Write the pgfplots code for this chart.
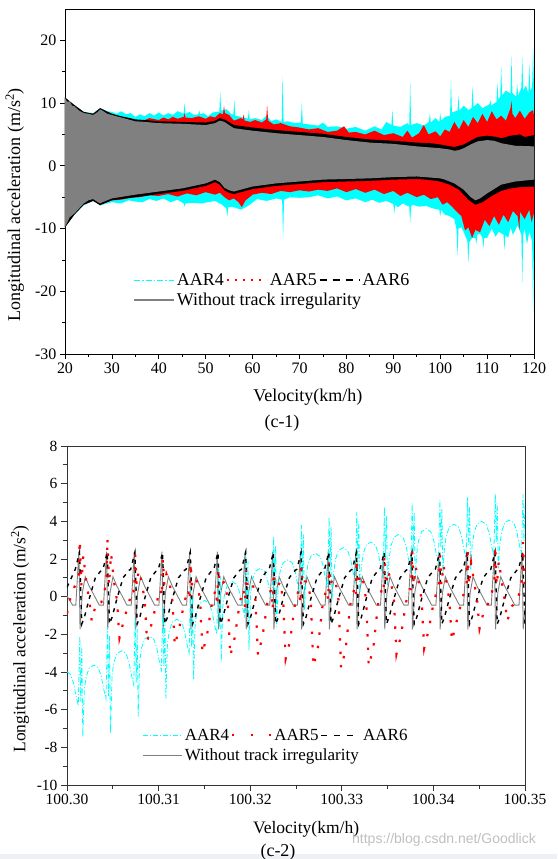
\documentclass[border=0pt]{standalone}
\usepackage{fontspec}
\setmainfont{Liberation Serif}
\newfontfamily\wmfont{Liberation Sans}
\usepackage{pgfplots}
\pgfplotsset{compat=1.18}
\definecolor{stripc}{RGB}{238,240,245}
\definecolor{cy}{RGB}{0,255,255}
\definecolor{rd}{RGB}{255,0,0}
\definecolor{gr}{RGB}{128,128,128}
\begin{document}
\begin{tikzpicture}
\useasboundingbox (0,0) rectangle (557pt,859pt);
\fill[stripc] (0,0) rectangle (557pt,5pt);
% ---------------- top chart (c-1) ----------------
\begin{axis}[
  at={(65pt,505pt)}, anchor=south west,
  width=469pt, height=345pt, scale only axis,
  xmin=20, xmax=120, ymin=-30, ymax=25,
  xtick={20,30,...,120}, ytick={-30,-20,...,20},
  minor x tick num=1, minor y tick num=1,
  tick align=outside, tick pos=left,
  major tick length=5pt, minor tick length=3pt,
  axis line style={line width=0.9pt},
  every tick/.style={black, line width=0.8pt},
  /pgf/number format/assume math mode=true,
  ticklabel style={font=\fontsize{16}{19}\selectfont},
  xlabel={Velocity(km/h)},
  ylabel={Longitudinal acceleration (m/s\textsuperscript{2})},
  every axis x label/.style={at={(axis description cs:0.518,-0.125)}, anchor=center, font=\fontsize{18}{21}\selectfont},
  every axis y label/.style={at={(axis description cs:-0.107,0.432)}, anchor=center, rotate=90, font=\fontsize{18}{21}\selectfont},
  legend style={at={(axis description cs:0.145,0.24)}, anchor=north west, draw=none, fill=none,
    font=\fontsize{18}{21}\selectfont, /tikz/every even column/.append style={column sep=0pt}, row sep=2pt, inner sep=0pt},
  legend columns=3, legend cell align=left,
  legend image code/.code={\draw[#1] (0pt,0pt) -- (40pt,0pt);},
]
\addlegendimage{cy, line width=1.1pt, dash pattern=on 6pt off 2pt on 1.5pt off 2pt}
\addlegendentry{AAR4}
\addlegendimage{rd, line width=2pt, dash pattern=on 2pt off 6pt}
\addlegendentry{AAR5}
\addlegendimage{black, line width=1.5pt, dash pattern=on 7pt off 6pt}
\addlegendentry{AAR6}
\addlegendimage{gr, line width=1.6pt}
\addlegendentry{\makebox[0pt][l]{Without track irregularity}}
% AAR4 envelope
\addplot[fill=cy, draw=none, forget plot] coordinates {
(20,10.8)(22,9.6)(24,8.6)(26,8.4)(27.5,9.2)(29,8.7)(30,8.6)(31,8.3)(32,8.7)(33,8.2)(34,8.4)(35,7.8)(36,8.2)(37,7.9)(38,8.4)(39,8.0)(40,8.5)(41,8.0)(42,8.4)(43,8.1)(44,8.7)(45.3,8.3)(45.5,10.0)(45.7,8.3)(46.5,8.6)(47.5,8.1)(48.4,8.2)(48.6,8.9)(48.8,8.2)(49.5,8.4)(50.5,7.9)(51.5,8.5)(52.5,8.6)(52.9,8.6)(53.1,11.7)(53.3,8.8)(54.5,9.0)(55.5,8.2)(55.9,8.2)(56.1,10.5)(56.3,8.0)(57.5,7.8)(59.0,7.5)(59.2,8.9)(59.4,7.4)(60.5,7.6)(62,7.3)(63,8.0)(64,7.1)(65,7.4)(66.2,7.0)(66.4,14.3)(66.6,7.0)(67.5,7.1)(69,6.8)(70.3,6.9)(70.5,10.2)(70.7,6.7)(72,6.6)(74,6.4)(75,6.9)(76,6.2)(78,6.3)(80,5.9)(82,6.2)(84,5.6)(86,6.3)(87.5,5.8)(88.5,7.0)(89.6,6.5)(89.8,8.9)(90,6.4)(91.5,6.2)(93,6.8)(93.4,6.5)(93.6,13.5)(93.8,6.5)(95,6.8)(96.5,6.4)(97.6,7.0)(97.8,8.4)(98,6.9)(99,7.6)(99.8,7.0)(100,8.4)(100.2,7.2)(101,7.8)(102.1,8.0)(102.3,13.7)(102.5,8.5)(103.7,8.8)(103.9,11.1)(104.1,8.8)(105,9.6)(106,8.9)(106.7,9.2)(106.9,12.7)(107.1,9.4)(108,10.0)(109,9.2)(110.5,9.8)(110.7,10.5)(110.9,9.6)(112,10.2)(112.2,13.2)(112.4,10.6)(112.8,11.0)(113,15.9)(113.2,11.2)(114,12.0)(115,11.5)(115.2,17.4)(115.4,11.6)(116.2,11.0)(116.4,13.2)(116.6,11.2)(117.3,12.4)(117.5,17.4)(117.7,12.0)(118.3,12.8)(118.8,11.5)(119,16.4)(119.2,12.0)(119.6,12.5)(119.8,19.0)(120,12.0)
(120,-12)(119.8,-23.5)(119.6,-12)(119,-10.5)(118.5,-12.5)(118,-10)(117.7,-11)(117.5,-18.7)(117.3,-11)(116.5,-9.5)(115.5,-11)(115,-9.8)(114.5,-11.5)(113.9,-11)(113.7,-13.4)(113.5,-11)(112.5,-10.5)(111.8,-11.3)(111,-10)(110,-11.5)(109.4,-11.5)(109.2,-13.1)(109,-11.5)(108.5,-10.8)(107.9,-11)(107.7,-12.5)(107.5,-11.5)(106.8,-11.5)(106.2,-12.2)(106,-15.5)(105.8,-12)(105,-10.5)(104.5,-9.8)(103.9,-10.0)(103.7,-14.5)(103.5,-10.2)(103,-8.5)(102,-8.0)(101,-7.8)(100.2,-7.0)(100,-8.1)(99.8,-7.0)(98.5,-6.8)(97,-6.4)(95.5,-6.5)(94,-6.2)(93.8,-6.5)(93.6,-9.1)(93.4,-6.5)(92,-6.0)(91,-6.6)(90.4,-6.2)(90.2,-7.6)(90,-6.1)(88.5,-5.6)(87,-5.9)(85.5,-5.4)(84,-5.8)(82,-5.2)(80,-5.5)(78,-4.9)(76,-5.2)(74,-4.7)(72,-5.0)(70,-5.1)(68,-5.0)(66.7,-5.4)(66.5,-11.7)(66.3,-5.4)(65,-5.2)(63,-5.6)(61,-5.3)(59,-6.4)(57.5,-7.0)(56,-6.6)(54.8,-6.6)(54.6,-8.1)(54.4,-6.8)(53.5,-6.2)(52,-5.6)(50.5,-5.8)(49,-6.0)(47.5,-5.9)(45.7,-6.0)(45.5,-6.5)(45.3,-6.0)(44,-5.4)(42.5,-5.8)(41,-5.2)(39.5,-5.6)(38,-5.3)(36.5,-5.8)(35,-5.7)(33.5,-5.5)(32,-6.0)(30,-5.8)(28,-6.2)(26,-5.6)(24,-6.3)(22,-7.8)(20,-9.8)
} -- cycle;
% AAR5 envelope
\addplot[fill=rd, draw=none, forget plot] coordinates {
(20,10.8)(22,9.6)(24,8.5)(26,8.3)(27.5,9.1)(29,8.4)(30,8.2)(32,7.8)(34,7.6)(35,7.2)(37,7.3)(38,7.6)(40,7.3)(41,7.7)(42,7.4)(43,7.8)(44,7.5)(45.3,7.8)(45.5,8.4)(45.7,7.7)(47,7.6)(48.5,7.9)(50,7.5)(51,7.9)(52,7.7)(53,8.4)(53.7,8.2)(53.9,9.6)(54.1,8.4)(55,8.1)(56,7.2)(57.5,7.6)(57.9,7.4)(58.1,8.2)(58.3,7.2)(59.5,7.0)(60.5,7.3)(62,6.9)(62.9,7.4)(63.1,9.7)(63.3,7.2)(64.5,6.6)(66,6.8)(68,6.3)(70,6.1)(72,5.8)(74,6.0)(76,5.4)(78,5.6)(79.5,6.3)(80.5,5.3)(82,5.4)(84,5.0)(86,5.6)(88,4.9)(90,5.2)(92,4.6)(93,5.6)(94,4.5)(95.5,5.2)(96.5,6.5)(97.5,5.0)(99,5.5)(100,4.7)(101,5.8)(102,5.4)(103,7.0)(104,5.8)(105,7.3)(106,6.2)(107,7.8)(108,6.8)(109,8.3)(110,7.0)(111,8.7)(112,7.4)(113,8.0)(114,7.2)(115,9.2)(115.2,10.3)(115.4,8.3)(116,7.6)(117,8.8)(118,7.5)(119,8.5)(119.8,8.9)(120,8.0)
(120,-7.5)(119.5,-9.0)(119,-7.0)(118,-8.5)(117,-7.3)(116.9,-10.2)(116.5,-8.0)(115.5,-7.2)(114.5,-9.0)(113.5,-7.8)(112.5,-9.4)(111.5,-8.0)(110.5,-9.6)(109.5,-8.6)(108.5,-10.6)(107.5,-10.2)(106.8,-11.5)(106,-9.8)(105.3,-10.3)(104.5,-8.0)(103.5,-7.3)(102.5,-6.5)(101.5,-5.8)(100.5,-6.2)(99.5,-5.0)(98,-5.3)(96.5,-4.6)(95,-5.0)(93,-4.3)(91.5,-4.8)(90,-4.0)(88,-4.5)(86,-3.8)(84,-4.3)(82,-3.7)(80,-4.2)(78,-3.6)(76,-4.0)(74,-3.8)(72,-4.1)(70,-3.9)(68,-4.2)(66,-4.0)(64,-4.5)(62,-4.3)(60,-4.6)(58.5,-5.5)(57.7,-6.6)(57,-5.8)(56,-5.2)(55,-5.5)(54,-5.0)(53,-4.3)(52,-4.6)(50,-4.2)(48,-4.7)(46,-4.4)(44,-4.9)(42,-4.5)(40,-4.8)(38,-4.7)(36,-5.0)(34,-5.1)(32,-5.4)(30,-5.5)(28,-6.1)(26,-5.5)(24,-6.2)(22,-7.7)(20,-9.8)
} -- cycle;
% AAR6 envelope
\addplot[fill=black, draw=none, forget plot] coordinates {
(20,10.9)(22,9.7)(24,8.6)(26,8.3)(27.5,9.2)(30,8.3)(32,7.9)(35,7.4)(37,7.3)(40,7.1)(45,7.0)(50,6.9)(52,7.2)(53,7.6)(54,7.4)(56,6.5)(58,6.3)(60,6.1)(65,5.7)(70,5.4)(75,5.1)(80,4.6)(85,4.2)(90,4.0)(95,3.7)(98,3.6)(100,3.4)(103,3.0)(105,3.4)(107,4.2)(108,4.6)(110,4.8)(112,4.6)(113,4.4)(115,4.8)(117,5.0)(118,4.6)(120,4.9)
(120,-3.3)(117,-3.4)(115,-3.6)(113,-4.0)(111,-4.8)(109,-5.8)(107.5,-6.2)(106,-5.4)(104,-3.8)(102,-3.0)(100,-2.5)(97,-2.2)(95,-2.1)(90,-2.2)(85,-2.4)(80,-2.5)(75,-2.6)(70,-2.9)(65,-3.2)(60,-3.7)(56,-4.5)(55,-4.3)(54,-3.9)(53,-3.0)(52,-2.6)(50,-3.2)(45,-4.0)(40,-4.5)(35,-5.0)(30,-5.5)(28,-6.1)(27.5,-6.3)(26,-5.6)(24,-6.2)(22,-7.8)(20,-9.8)
} -- cycle;
% Without track irregularity
\addplot[fill=gr, draw=none, forget plot] coordinates {
(20,10.8)(20.5,10.2)(21,10.3)(21.5,9.6)(22,9.5)(23,8.8)(24,8.4)(25,8.3)(26,8.1)(27,8.6)(27.5,9.0)(28,8.8)(29,8.3)(30,8.1)(32,7.7)(35,7.1)(37,7.0)(40,6.8)(45,6.7)(50,6.5)(52,6.8)(53,7.2)(54,7.0)(56,6.0)(58,5.8)(60,5.6)(65,5.2)(70,4.9)(75,4.6)(80,4.1)(85,3.7)(90,3.5)(95,3.1)(100,2.8)(102,2.6)(103,2.4)(104,2.5)(105,2.8)(106.5,3.4)(108,3.9)(110,4.1)(111.5,4.0)(113,3.6)(116,3.2)(120,3.1)
(120,-2.2)(116,-2.5)(113,-3.0)(110,-4.4)(108.5,-5.2)(107.5,-5.5)(106.5,-5.0)(105,-3.8)(103,-2.8)(101,-2.2)(100,-2.0)(95,-1.7)(90,-1.8)(85,-2.0)(80,-2.1)(75,-2.2)(70,-2.5)(65,-2.8)(60,-3.3)(56,-4.1)(55,-3.9)(54,-3.5)(53,-2.6)(52,-2.2)(50,-2.8)(45,-3.6)(40,-4.1)(35,-4.6)(30,-5.2)(28,-5.8)(27.5,-6.0)(27,-5.8)(26,-5.3)(25,-5.5)(24,-6.0)(23,-6.8)(22,-7.6)(21,-8.2)(20.5,-9.0)(20,-9.7)
} -- cycle;
\end{axis}
\node[font=\fontsize{18}{21}\selectfont] at (282pt,436pt) {(c-1)};
% ---------------- bottom chart (c-2) ----------------
\begin{axis}[
  at={(67pt,74pt)}, anchor=south west,
  width=458pt, height=339pt, scale only axis,
  xmin=0, xmax=50, ymin=-10, ymax=8,
  xtick={0,10,...,50},
  xticklabels={100.30,100.31,100.32,100.33,100.34,100.35},
  ytick={-10,-8,...,8},
  minor x tick num=1, minor y tick num=1,
  tick align=outside, tick pos=left,
  major tick length=6pt, minor tick length=4pt,
  axis line style={line width=0.9pt, black!80},
  every tick/.style={black!80, line width=0.8pt},
  /pgf/number format/assume math mode=true,
  ticklabel style={font=\fontsize{15.5}{18}\selectfont},
  xlabel={Velocity(km/h)},
  ylabel={Longitudinal acceleration (m/s\textsuperscript{2})},
  every axis x label/.style={at={(axis description cs:0.522,-0.13)}, anchor=center, font=\fontsize{17.5}{21}\selectfont},
  every axis y label/.style={at={(axis description cs:-0.1026,0.431)}, anchor=center, rotate=90, font=\fontsize{17.5}{21}\selectfont},
  legend style={at={(axis description cs:0.165,0.172)}, anchor=north west, draw=none, fill=none,
    font=\fontsize{17}{20}\selectfont, /tikz/every even column/.append style={column sep=0pt}, row sep=3pt, inner sep=0pt},
  legend columns=3, legend cell align=left,
  legend image code/.code={\draw[#1] (0pt,0pt) -- (39pt,0pt);},
]
\addlegendimage{cy, line width=1pt, dash pattern=on 5pt off 2pt on 1pt off 2pt}
\addlegendentry{AAR4}
\addlegendimage{rd, line width=2.2pt, dash pattern=on 2pt off 16.5pt}
\addlegendentry{AAR5}
\addlegendimage{black, line width=1.4pt, dash pattern=on 6pt off 7pt}
\addlegendentry{AAR6}
\addlegendimage{gr, line width=0.9pt}
\addlegendentry{\makebox[0pt][l]{Without track irregularity}}
% Without track irregularity
\addplot[gr, line width=0.9pt, forget plot] coordinates {
(0,0.03)(0.62,-0.45)
(0.963,-0.45)(1.293,2.39)(1.423,-1.73)(1.673,0.2)(1.993,1.06)(2.433,0.55)(2.983,0.05)(3.523,-0.45)
(3.987,-0.45)(4.317,2.39)(4.447,-1.73)(4.697,0.2)(5.017,1.06)(5.457,0.55)(6.007,0.05)(6.547,-0.45)
(7.011,-0.45)(7.341,2.39)(7.471,-1.73)(7.721,0.2)(8.041,1.06)(8.481,0.55)(9.031,0.05)(9.571,-0.45)
(10.035,-0.45)(10.365,2.39)(10.495,-1.73)(10.745,0.2)(11.065,1.06)(11.505,0.55)(12.055,0.05)(12.595,-0.45)
(13.059,-0.45)(13.389,2.39)(13.519,-1.73)(13.769,0.2)(14.089,1.06)(14.529,0.55)(15.079,0.05)(15.619,-0.45)
(16.083,-0.45)(16.413,2.39)(16.543,-1.73)(16.793,0.2)(17.113,1.06)(17.553,0.55)(18.103,0.05)(18.643,-0.45)
(19.107,-0.45)(19.437,2.39)(19.567,-1.73)(19.817,0.2)(20.137,1.06)(20.577,0.55)(21.127,0.05)(21.667,-0.45)
(22.131,-0.45)(22.461,2.39)(22.591,-1.73)(22.841,0.2)(23.161,1.06)(23.601,0.55)(24.151,0.05)(24.691,-0.45)
(25.155,-0.45)(25.485,2.39)(25.615,-1.73)(25.865,0.2)(26.185,1.06)(26.625,0.55)(27.175,0.05)(27.715,-0.45)
(28.179,-0.45)(28.509,2.39)(28.639,-1.73)(28.889,0.2)(29.209,1.06)(29.649,0.55)(30.199,0.05)(30.739,-0.45)
(31.203,-0.45)(31.533,2.39)(31.663,-1.73)(31.913,0.2)(32.233,1.06)(32.673,0.55)(33.223,0.05)(33.763,-0.45)
(34.227,-0.45)(34.557,2.39)(34.687,-1.73)(34.937,0.2)(35.257,1.06)(35.697,0.55)(36.247,0.05)(36.787,-0.45)
(37.251,-0.45)(37.581,2.39)(37.711,-1.73)(37.961,0.2)(38.281,1.06)(38.721,0.55)(39.271,0.05)(39.811,-0.45)
(40.275,-0.45)(40.605,2.39)(40.735,-1.73)(40.985,0.2)(41.305,1.06)(41.745,0.55)(42.295,0.05)(42.835,-0.45)
(43.299,-0.45)(43.629,2.39)(43.759,-1.73)(44.009,0.2)(44.329,1.06)(44.769,0.55)(45.319,0.05)(45.859,-0.45)
(46.323,-0.45)(46.653,2.39)(46.783,-1.73)(47.033,0.2)(47.353,1.06)(47.793,0.55)(48.343,0.05)(48.883,-0.45)
(49.347,-0.45)(49.677,2.39)(49.807,-1.73)(50,-0.6)
};
% AAR4
\addplot[cy, line width=0.8pt, dash pattern=on 5pt off 2pt on 1pt off 2pt, forget plot] coordinates {
(0,-3.99)(0.389,-4.13)(0.719,-4.58)(0.989,-5.28)(1.233,-5.78)
(1.398,-2.1)(1.503,-5.57)(1.613,-2.6)(1.723,-7.44)(1.893,-4.93)(2.103,-4.23)(2.433,-3.78)(2.923,-3.63)(3.413,-3.78)(3.743,-4.23)(4.013,-4.93)
(4.257,-5.43)(4.422,-1.6)(4.527,-5.27)(4.637,-2.1)(4.747,-7.24)(4.917,-4.17)(5.127,-3.47)(5.457,-3.02)(5.947,-2.87)(6.437,-3.02)(6.767,-3.47)(7.037,-4.17)
(7.281,-4.67)(7.446,-1.2)(7.551,-4.56)(7.661,-1.7)(7.771,-6.37)(7.941,-3.4)(8.151,-2.7)(8.481,-2.25)(8.971,-2.1)(9.461,-2.25)(9.791,-2.7)(10.061,-3.4)
(10.305,-3.9)(10.47,-0.5)(10.575,-3.69)(10.685,-1.0)(10.795,-5.4)(10.965,-2.5)(11.175,-1.8)(11.505,-1.35)(11.995,-1.2)(12.485,-1.35)(12.815,-1.8)(13.085,-2.5)
(13.329,-3.0)(13.494,0.5)(13.599,-2.69)(13.709,0.0)(13.819,-4.4)(13.989,-1.5)(14.199,-0.8)(14.529,-0.35)(15.019,-0.2)(15.509,-0.35)(15.839,-0.8)(16.109,-1.5)
(16.353,-2.0)(16.518,1.6)(16.623,-1.68)(16.733,1.1)(16.843,-3.45)(17.013,-0.5)(17.223,0.2)(17.553,0.65)(18.043,0.8)(18.533,0.65)(18.863,0.2)(19.133,-0.5)
(19.377,-1.0)(19.542,2.4)(19.647,-1.01)(19.757,1.9)(19.867,-2.85)(20.037,0.2)(20.247,0.9)(20.577,1.35)(21.067,1.5)(21.557,1.35)(21.887,0.9)(22.157,0.2)
(22.401,-0.3)(22.566,3.2)(22.671,0.08)(22.781,2.7)(22.891,-1.6)(23.061,0.65)(23.271,1.35)(23.601,1.8)(24.091,1.95)(24.581,1.8)(24.911,1.35)(25.181,0.65)
(25.425,0.15)(25.59,3.8)(25.695,0.88)(25.805,3.3)(25.915,-0.7)(26.085,1.0)(26.295,1.7)(26.625,2.15)(27.115,2.3)(27.605,2.15)(27.935,1.7)(28.205,1.0)
(28.449,0.5)(28.614,4.2)(28.719,1.34)(28.829,3.7)(28.939,-0.2)(29.109,1.3)(29.319,2.0)(29.649,2.45)(30.139,2.6)(30.629,2.45)(30.959,2.0)(31.229,1.3)
(31.473,0.8)(31.638,4.5)(31.743,1.7)(31.853,4.0)(31.963,0.2)(32.133,1.6)(32.343,2.3)(32.673,2.75)(33.163,2.9)(33.653,2.75)(33.983,2.3)(34.253,1.6)
(34.497,1.1)(34.662,4.76)(34.767,2.06)(34.877,4.26)(34.987,0.6)(35.157,2.0)(35.367,2.7)(35.697,3.15)(36.187,3.3)(36.677,3.15)(37.007,2.7)(37.277,2.0)
(37.521,1.5)(37.686,4.95)(37.791,2.32)(37.901,4.45)(38.011,0.9)(38.181,2.3)(38.391,3.0)(38.721,3.45)(39.211,3.6)(39.701,3.45)(40.031,3.0)(40.301,2.3)
(40.545,1.8)(40.71,5.13)(40.815,2.58)(40.925,4.63)(41.035,1.2)(41.205,2.55)(41.415,3.25)(41.745,3.7)(42.235,3.85)(42.725,3.7)(43.055,3.25)(43.325,2.55)
(43.569,2.05)(43.734,5.27)(43.839,2.75)(43.949,4.77)(44.059,1.4)(44.229,2.7)(44.439,3.4)(44.769,3.85)(45.259,4.0)(45.749,3.85)(46.079,3.4)(46.349,2.7)
(46.593,2.2)(46.758,5.45)(46.863,2.88)(46.973,4.95)(47.083,1.5)(47.253,2.77)(47.463,3.47)(47.793,3.92)(48.283,4.07)(48.773,3.92)(49.103,3.47)(49.373,2.77)
(49.617,2.27)(49.782,5.45)(49.887,2.95)(50,4.9)
};
% AAR6
\addplot[black, line width=1.4pt, dash pattern=on 4pt off 5pt, forget plot] coordinates {
(0,0.5)
(0.903,1.45)(1.363,2.35)(1.613,-1.45)(1.893,-1.1)(2.433,-0.1)(3.093,1.0)(3.743,1.4)
(3.927,1.45)(4.387,2.35)(4.637,-1.45)(4.917,-1.1)(5.457,-0.1)(6.117,1.0)(6.767,1.4)
(6.951,1.45)(7.411,2.35)(7.661,-1.45)(7.941,-1.1)(8.481,-0.1)(9.141,1.0)(9.791,1.4)
(9.975,1.45)(10.435,2.35)(10.685,-1.45)(10.965,-1.1)(11.505,-0.1)(12.165,1.0)(12.815,1.4)
(12.999,1.45)(13.459,2.35)(13.709,-1.45)(13.989,-1.1)(14.529,-0.1)(15.189,1.0)(15.839,1.4)
(16.023,1.45)(16.483,2.35)(16.733,-1.45)(17.013,-1.1)(17.553,-0.1)(18.213,1.0)(18.863,1.4)
(19.047,1.45)(19.507,2.35)(19.757,-1.45)(20.037,-1.1)(20.577,-0.1)(21.237,1.0)(21.887,1.4)
(22.071,1.45)(22.531,2.35)(22.781,-1.45)(23.061,-1.1)(23.601,-0.1)(24.261,1.0)(24.911,1.4)
(25.095,1.45)(25.555,2.35)(25.805,-1.45)(26.085,-1.1)(26.625,-0.1)(27.285,1.0)(27.935,1.4)
(28.119,1.45)(28.579,2.35)(28.829,-1.45)(29.109,-1.1)(29.649,-0.1)(30.309,1.0)(30.959,1.4)
(31.143,1.45)(31.603,2.35)(31.853,-1.45)(32.133,-1.1)(32.673,-0.1)(33.333,1.0)(33.983,1.4)
(34.167,1.45)(34.627,2.35)(34.877,-1.45)(35.157,-1.1)(35.697,-0.1)(36.357,1.0)(37.007,1.4)
(37.191,1.45)(37.651,2.35)(37.901,-1.45)(38.181,-1.1)(38.721,-0.1)(39.381,1.0)(40.031,1.4)
(40.215,1.45)(40.675,2.35)(40.925,-1.45)(41.205,-1.1)(41.745,-0.1)(42.405,1.0)(43.055,1.4)
(43.239,1.45)(43.699,2.35)(43.949,-1.45)(44.229,-1.1)(44.769,-0.1)(45.429,1.0)(46.079,1.4)
(46.263,1.45)(46.723,2.35)(46.973,-1.45)(47.253,-1.1)(47.793,-0.1)(48.453,1.0)(49.103,1.4)
(49.287,1.45)(49.747,2.35)(49.997,-1.45)
};
% AAR5
\addplot[rd, line width=2.2pt, dash pattern=on 2.4pt off 11pt, forget plot] coordinates {
(0,-0.9)(0.5,0.2)
(1.293,1.0)(1.393,3.0)(1.563,0.6)(1.783,2.2)(2.103,0.8)(2.433,-0.2)(2.703,-1.3)(3.203,-0.3)(3.743,-0.3)(4.143,0.4)
(4.317,1.1)(4.417,3.1)(4.587,0.6)(4.807,2.3)(5.127,0.8)(5.457,-0.2)(5.727,-2.2)(6.227,-1.2)(6.767,-0.3)(7.167,0.4)
(7.341,0.2)(7.441,2.2)(7.611,0.6)(7.831,1.4)(8.151,0.8)(8.481,-0.2)(8.751,-2.4)(9.251,-1.4)(9.791,-0.3)(10.191,0.4)
(10.365,0.0)(10.465,2.0)(10.635,0.6)(10.855,1.2)(11.175,0.8)(11.505,-0.2)(11.775,-2.6)(12.275,-1.6)(12.815,-0.3)(13.215,0.4)
(13.389,-0.2)(13.489,1.8)(13.659,0.6)(13.879,1.0)(14.199,0.8)(14.529,-0.2)(14.799,-3.0)(15.299,-2.0)(15.839,-0.3)(16.239,0.4)
(16.413,-0.5)(16.513,1.5)(16.683,0.6)(16.903,0.7)(17.223,0.8)(17.553,-0.2)(17.823,-3.15)(18.323,-2.15)(18.863,-0.3)(19.263,0.4)
(19.437,-0.6)(19.537,1.4)(19.707,0.6)(19.927,0.6)(20.247,0.8)(20.577,-0.2)(20.847,-3.1)(21.347,-2.1)(21.887,-0.3)(22.287,0.4)
(22.461,-0.7)(22.561,1.3)(22.731,0.6)(22.951,0.5)(23.271,0.8)(23.601,-0.2)(23.871,-3.3)(24.371,-2.3)(24.911,-0.3)(25.311,0.4)
(25.485,-0.4)(25.585,1.6)(25.755,0.6)(25.975,0.8)(26.295,0.8)(26.625,-0.2)(26.895,-3.7)(27.395,-2.7)(27.935,-0.3)(28.335,0.4)
(28.509,-0.2)(28.609,1.8)(28.779,0.6)(28.999,1.0)(29.319,0.8)(29.649,-0.2)(29.919,-3.8)(30.419,-2.8)(30.959,-0.3)(31.359,0.4)
(31.533,0.0)(31.633,2.0)(31.803,0.6)(32.023,1.2)(32.343,0.8)(32.673,-0.2)(32.943,-3.7)(33.443,-2.7)(33.983,-0.3)(34.383,0.4)
(34.557,0.2)(34.657,2.2)(34.827,0.6)(35.047,1.4)(35.367,0.8)(35.697,-0.2)(35.967,-3.05)(36.467,-2.05)(37.007,-0.3)(37.407,0.4)
(37.581,0.4)(37.681,2.4)(37.851,0.6)(38.071,1.6)(38.391,0.8)(38.721,-0.2)(38.991,-2.75)(39.491,-1.75)(40.031,-0.3)(40.431,0.4)
(40.605,0.5)(40.705,2.5)(40.875,0.6)(41.095,1.7)(41.415,0.8)(41.745,-0.2)(42.015,-2.35)(42.515,-1.35)(43.055,-0.3)(43.455,0.4)
(43.629,0.6)(43.729,2.6)(43.899,0.6)(44.119,1.8)(44.439,0.8)(44.769,-0.2)(45.039,-1.7)(45.539,-0.7)(46.079,-0.3)(46.479,0.4)
(46.653,0.7)(46.753,2.7)(46.923,0.6)(47.143,1.9)(47.463,0.8)(47.793,-0.2)(48.063,-1.3)(48.563,-0.5)(49.103,-0.3)(49.503,0.4)
(49.677,0.9)(49.777,2.9)(49.947,0.6)(50,0.9)
};
\end{axis}
\node[font=\fontsize{18}{21}\selectfont] at (278pt,7pt) {(c-2)};
\node[font=\wmfont\fontsize{14}{16}\selectfont, text=black!25] at (444pt,19pt) {https://blog.csdn.net/Goodlick};
\end{tikzpicture}
\end{document}
